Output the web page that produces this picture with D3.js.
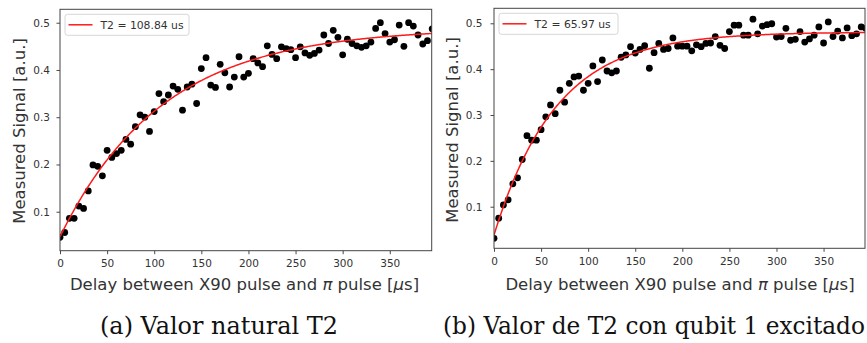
<!DOCTYPE html>
<html>
<head>
<meta charset="utf-8">
<script src="https://cdn.jsdelivr.net/npm/d3@7"></script>
<style>
  html, body { margin: 0; padding: 0; background: #fff; }
  svg { display: block; }
  text { font-family: "DejaVu Sans", sans-serif; }
</style>
</head>
<body>
<svg id="chart" width="867" height="343"></svg>
<script>
// ---------------- data ----------------
const delays = d3.range(80).map(i => i * 5); // 0, 5, ..., 395 µs

const signalA = [
  0.046, 0.056, 0.086, 0.086, 0.112, 0.107, 0.144, 0.199, 0.196, 0.176,
  0.230, 0.215, 0.223, 0.230, 0.253, 0.243, 0.280, 0.305, 0.300, 0.270,
  0.312, 0.350, 0.333, 0.347, 0.366, 0.359, 0.315, 0.364, 0.370, 0.329,
  0.403, 0.426, 0.368, 0.363, 0.412, 0.394, 0.364, 0.385, 0.428, 0.385,
  0.393, 0.424, 0.415, 0.407, 0.451, 0.433, 0.424, 0.449, 0.445, 0.443,
  0.426, 0.449, 0.436, 0.431, 0.435, 0.442, 0.474, 0.456, 0.484, 0.469,
  0.432, 0.465, 0.456, 0.451, 0.448, 0.451, 0.459, 0.488, 0.500, 0.477,
  0.459, 0.464, 0.495, 0.450, 0.500, 0.493, 0.474, 0.455, 0.462, 0.487
];

const signalB = [
  0.031, 0.075, 0.104, 0.115, 0.150, 0.163, 0.203, 0.255, 0.245, 0.245,
  0.268, 0.296, 0.322, 0.303, 0.354, 0.328, 0.369, 0.383, 0.385, 0.354,
  0.369, 0.407, 0.373, 0.420, 0.396, 0.392, 0.396, 0.426, 0.431, 0.449,
  0.435, 0.443, 0.451, 0.402, 0.436, 0.456, 0.443, 0.445, 0.468, 0.450,
  0.450, 0.450, 0.440, 0.453, 0.449, 0.456, 0.457, 0.471, 0.452, 0.445,
  0.482, 0.496, 0.496, 0.474, 0.474, 0.509, 0.477, 0.494, 0.497, 0.499,
  0.470, 0.471, 0.489, 0.463, 0.465, 0.482, 0.459, 0.466, 0.474, 0.492,
  0.457, 0.503, 0.471, 0.483, 0.468, 0.490, 0.473, 0.477, 0.492, 0.489
];

// exponential fit parameters: y = amp - offs * exp(-t / T2)
const fitA = { T2: 108.84, amp: 0.489, offs: 0.442 };
const fitB = { T2: 65.97, amp: 0.481, offs: 0.443 };

const xTicks = [0, 50, 100, 150, 200, 250, 300, 350];
const yTicks = [0.1, 0.2, 0.3, 0.4, 0.5];

const legendA = "T2 = 108.84 us";
const legendB = "T2 = 65.97 us";
const captionA = "(a) Valor natural T2";
const captionB = "(b) Valor de T2 con qubit 1 excitado";
const yLabel = "Measured Signal [a.u.]";

// ---------------- drawing ----------------
const svg = d3.select("#chart");

function panel(cfg) {
  const g = svg.append("g");
  const x = d3.scaleLinear().domain(cfg.xDom).range([cfg.left, cfg.right]);
  const y = d3.scaleLinear().domain(cfg.yDom).range([cfg.bottom, cfg.top]);

  const clipId = "clip" + cfg.id;
  svg.append("clipPath").attr("id", clipId)
    .append("rect")
    .attr("x", cfg.left).attr("y", cfg.top)
    .attr("width", cfg.right - cfg.left).attr("height", cfg.bottom - cfg.top);

  const plot = g.append("g").attr("clip-path", `url(#${clipId})`);

  // fit curve
  const fitX = d3.range(0, cfg.xDom[1] + 1, 1);
  const line = d3.line()
    .x(d => x(d))
    .y(d => y(cfg.fit.amp - cfg.fit.offs * Math.exp(-d / cfg.fit.T2)));

  // points
  plot.selectAll("circle").data(cfg.values).join("circle")
    .attr("cx", (d, i) => x(delays[i]))
    .attr("cy", d => y(d))
    .attr("r", 3.4)
    .attr("fill", "#000");

  plot.append("path").datum(fitX)
    .attr("d", line)
    .attr("fill", "none")
    .attr("stroke", "#ff1a1a")
    .attr("stroke-width", 1.5);

  // axes
  const xAxis = d3.axisBottom(x).tickValues(xTicks).tickSize(3.5).tickPadding(5.5)
    .tickFormat(d3.format("d"));
  const gx = g.append("g").attr("transform", `translate(0,${cfg.bottom})`).call(xAxis);
  const yAxis = d3.axisLeft(y).tickValues(yTicks).tickSize(3.5).tickPadding(cfg.yPad)
    .tickFormat(d3.format(".1f"));
  const gy = g.append("g").attr("transform", `translate(${cfg.left},0)`).call(yAxis);
  [gx, gy].forEach(a => {
    a.select(".domain").remove();
    a.selectAll("line").attr("stroke", "#333").attr("stroke-width", 0.9);
    a.selectAll("text").attr("fill", "#333").style("font-size", "10.5px")
      .style("font-family", "'DejaVu Sans', sans-serif");
  });

  // frame
  g.append("rect")
    .attr("x", cfg.left).attr("y", cfg.top)
    .attr("width", cfg.right - cfg.left).attr("height", cfg.bottom - cfg.top)
    .attr("fill", "none").attr("stroke", "#444").attr("stroke-width", 1);

  // legend
  const lg = g.append("g");
  lg.append("rect")
    .attr("x", cfg.left + 5).attr("y", cfg.top + 5)
    .attr("width", cfg.legW).attr("height", 21)
    .attr("rx", 2.5)
    .attr("fill", "rgba(255,255,255,0.85)")
    .attr("stroke", "#d6d6d6").attr("stroke-width", 1);
  lg.append("line")
    .attr("x1", cfg.left + 8.5).attr("x2", cfg.left + 32.5)
    .attr("y1", cfg.top + 15.5).attr("y2", cfg.top + 15.5)
    .attr("stroke", "#ff1a1a").attr("stroke-width", 1.5);
  lg.append("text")
    .attr("x", cfg.left + 40.5).attr("y", cfg.top + 19.5)
    .attr("fill", "#333").style("font-size", "10.8px")
    .text(cfg.legend);

  // y label
  g.append("text")
    .attr("transform", `translate(${cfg.yLabX},${cfg.yLabY}) rotate(-90)`)
    .attr("text-anchor", "middle")
    .attr("fill", "#333").style("font-size", "16.5px")
    .text(yLabel);

  // x label
  const xl = g.append("text")
    .attr("x", cfg.xLabX).attr("y", 290)
    .attr("text-anchor", "middle")
    .attr("fill", "#333").style("font-size", "16.5px");
  xl.append("tspan").text("Delay between X90 pulse and ");
  xl.append("tspan").style("font-style", "italic").text("π");
  xl.append("tspan").text(" pulse [");
  xl.append("tspan").style("font-style", "italic").text("μ");
  xl.append("tspan").text("s]");

  // caption (sized to the reference's caption width)
  const cap = g.append("text")
    .attr("x", cfg.capX).attr("y", 334)
    .attr("text-anchor", "middle")
    .attr("fill", "#111")
    .style("font-family", "'DejaVu Serif', serif")
    .style("font-size", "20px")
    .text(cfg.caption);
  const w = cap.node().getComputedTextLength();
  cap.style("font-size", (20 * cfg.capW / w).toFixed(2) + "px");
}

panel({
  id: "A", values: signalA, fit: fitA, legend: legendA, caption: captionA,
  left: 60, right: 431.7, top: 9.3, bottom: 250.7,
  xDom: [0, 394.5], yDom: [0.0175, 0.5284], yPad: 6.5,
  legW: 124, yLabX: 25, yLabY: 131, xLabX: 244.5, capX: 219, capW: 238
});

panel({
  id: "B", values: signalB, fit: fitB, legend: legendB, caption: captionB,
  left: 494, right: 865, top: 8.3, bottom: 248.3,
  xDom: [0, 394], yDom: [0.0093, 0.5327], yPad: 8,
  legW: 119, yLabX: 458, yLabY: 130, xLabX: 680, capX: 654, capW: 422
});
</script>
</body>
</html>
